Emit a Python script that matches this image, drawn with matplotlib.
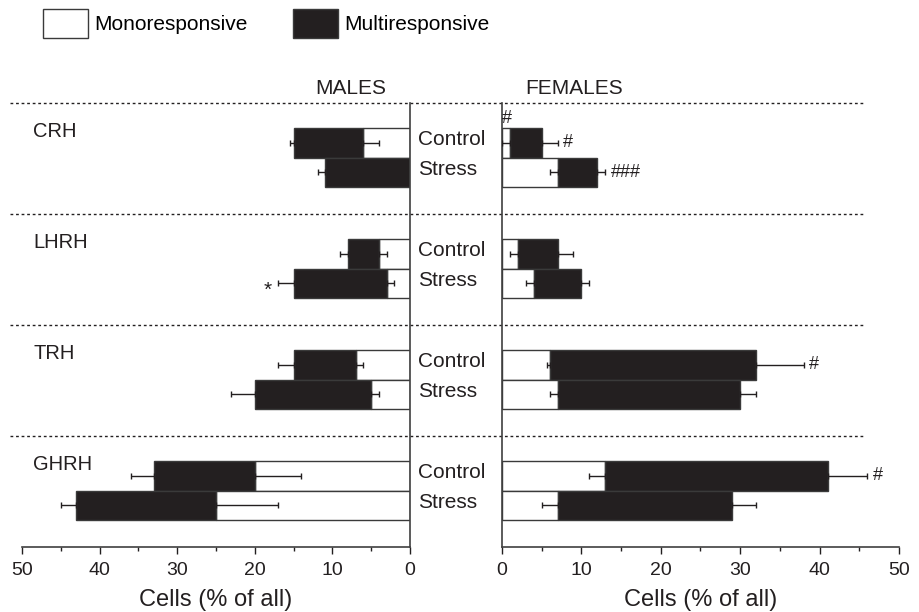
import matplotlib
matplotlib.use('Agg')
import matplotlib.pyplot as plt
import matplotlib.transforms as mtransforms
from matplotlib.ticker import MultipleLocator
from matplotlib.patches import Patch

plt.rcParams['font.family'] = ['Liberation Sans', 'DejaVu Sans']

hormones = ['CRH', 'LHRH', 'TRH', 'GHRH']
conditions = ['Control', 'Stress']

# per hormone: [control, stress], values in % of all cells
male_mono = [[6, 0], [4, 3], [7, 5], [20, 25]]
male_mono_err = [[2, 0], [1, 1], [1, 1], [6, 8]]
male_total = [[15, 11], [8, 15], [15, 20], [33, 43]]
male_total_err = [[0.5, 0.8], [1, 2], [2, 3], [3, 2]]

female_mono = [[1, 7], [2, 4], [6, 7], [13, 7]]
female_mono_err = [[1, 1], [1, 1], [0.3, 1], [2, 2]]
female_total = [[5, 12], [7, 10], [32, 30], [41, 29]]
female_total_err = [[2, 1], [2, 1], [6, 2], [5, 3]]

# significance marks at end of the bars
male_marks = [('LHRH', 'Stress', '*')]
female_marks = [('CRH', 'Control', '#'), ('CRH', 'Stress', '###'),
                ('TRH', 'Control', '#'), ('GHRH', 'Control', '#')]
female_mono_marks = [('CRH', 'Control', '#')]

dark = '#231f20'
edge = '#3a3a3a'
bar_pos = [0.36, 0.625]
bar_h = 0.265

fig = plt.figure(figsize=(9.19, 6.12), dpi=100)
axL = fig.add_axes([0.0239, 0.1062, 0.4222, 0.7255])
axR = fig.add_axes([0.5462, 0.1062, 0.432, 0.7255])


def draw(ax, mono, mono_err, total, total_err):
    for g in range(len(hormones)):
        for c in range(len(conditions)):
            y = g + bar_pos[c]
            ax.barh(y, mono[g][c], height=bar_h, color='white',
                    edgecolor=edge, linewidth=1, zorder=2)
            ax.barh(y, total[g][c] - mono[g][c], left=mono[g][c],
                    height=bar_h, color=dark, edgecolor=edge,
                    linewidth=1, zorder=2)
            if mono_err[g][c] > 0:
                ax.errorbar(mono[g][c], y, xerr=[[mono_err[g][c]], [0]],
                            fmt='none', ecolor=dark, elinewidth=1,
                            capsize=2.5, capthick=1, zorder=3)
            ax.errorbar(total[g][c], y, xerr=[[0], [total_err[g][c]]],
                        fmt='none', ecolor=dark, elinewidth=1,
                        capsize=2.5, capthick=1, zorder=3)


draw(axL, male_mono, male_mono_err, male_total, male_total_err)
draw(axR, female_mono, female_mono_err, female_total, female_total_err)

for ax in (axL, axR):
    ax.patch.set_visible(False)
    ax.set_ylim(4, 0)
    ax.set_yticks([])
    ax.xaxis.set_major_locator(MultipleLocator(10))
    ax.xaxis.set_minor_locator(MultipleLocator(5))
    ax.tick_params(axis='x', which='major', length=5, width=1,
                   labelsize=14, colors=dark, pad=6)
    ax.tick_params(axis='x', which='minor', length=3, width=1, colors=dark)
    ax.spines['top'].set_visible(False)
    ax.set_xlabel('Cells (% of all)', fontsize=17, color=dark, labelpad=7)
    for s in ax.spines.values():
        s.set_color('#404040')
        s.set_linewidth(1.2)

axL.set_xlim(50, 0)
axL.spines['left'].set_visible(False)
axR.set_xlim(0, 50)
axR.spines['right'].set_visible(False)

# dotted separators running across both panels
trans = mtransforms.blended_transform_factory(fig.transFigure, axL.transData)
for g in range(len(hormones)):
    axL.plot([0.011, 0.941], [g, g], transform=trans, clip_on=False,
             color=dark, lw=1, ls=(0, (2, 2)), zorder=1)
    axL.text(0.036, g + 0.26, hormones[g], transform=trans, fontsize=14.5,
             color=dark, va='center', ha='left')
    for c in range(len(conditions)):
        axL.text(0.455, g + bar_pos[c] - 0.03, conditions[c], transform=trans,
                 fontsize=15, color=dark, va='center', ha='left')

axL.text(0.848, 1.032, 'MALES', transform=axL.transAxes, fontsize=15,
         color=dark, ha='center', va='center')
axR.text(0.181, 1.032, 'FEMALES', transform=axR.transAxes, fontsize=15,
         color=dark, ha='center', va='center')

for h, c, txt in male_marks:
    g, k = hormones.index(h), conditions.index(c)
    axL.text(male_total[g][k] + male_total_err[g][k] + 0.8, g + bar_pos[k] + 0.06,
             txt, fontsize=15, color=dark, ha='right', va='center')
for h, c, txt in female_marks:
    g, k = hormones.index(h), conditions.index(c)
    axR.text(female_total[g][k] + female_total_err[g][k] + 0.7, g + bar_pos[k],
             txt, fontsize=13, color=dark, ha='left', va='center')
for h, c, txt in female_mono_marks:
    g, k = hormones.index(h), conditions.index(c)
    axR.text(0.05, g + bar_pos[k] - bar_h / 2 - 0.09, txt, fontsize=13,
             color=dark, ha='left', va='center')

handles = [Patch(facecolor='white', edgecolor=edge, linewidth=1),
           Patch(facecolor=dark, edgecolor=edge, linewidth=1)]
fig.legend(handles, ['Monoresponsive', 'Multiresponsive'], ncol=2,
           loc='upper left', bbox_to_anchor=(0.031, 1.009), frameon=False,
           fontsize=15, handlelength=2.15, handleheight=1.75,
           handletextpad=0.3, columnspacing=2.2, borderaxespad=0.3)

fig.savefig('out.png', dpi=100)
